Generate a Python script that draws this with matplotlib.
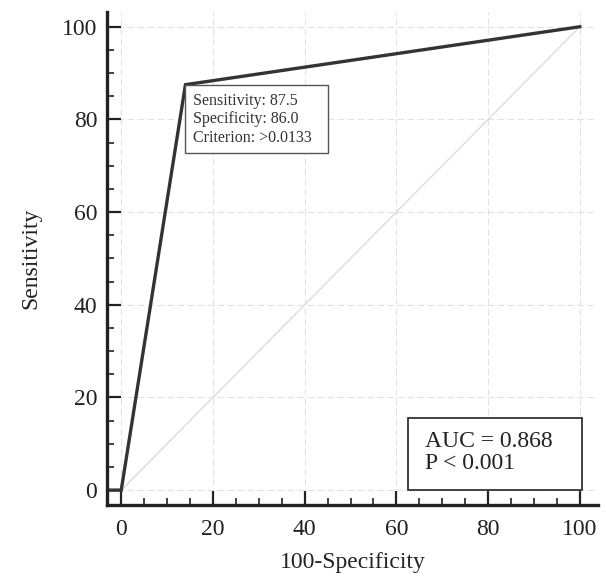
import matplotlib.pyplot as plt
from matplotlib.patches import Rectangle
import numpy as np

plt.rcParams['font.family'] = ['Liberation Serif', 'DejaVu Serif']

# ROC curve points (100-specificity, sensitivity)
fpr = [-3, 0, 14, 100]
tpr = [0, 0, 87.5, 100]
diag = [0, 100]
ticks = [0, 20, 40, 60, 80, 100]
cut_text = "Sensitivity: 87.5\nSpecificity: 86.0\nCriterion: >0.0133"
auc_text = "AUC = 0.868\nP < 0.001"

fig = plt.figure(figsize=(6.06, 5.76), dpi=100)
ax = fig.add_axes([0.1766, 0.1233, 0.8104, 0.856])

ax.grid(True, color='#e2e2e2', linestyle=(0, (6, 3)), linewidth=0.8)
ax.plot(diag, diag, color='#dcdcdc', linewidth=1.0)
ax.plot(fpr, tpr, color='#333333', linewidth=2.4, solid_joinstyle='miter')

ax.set_xlim(-3.1, 104)
ax.set_ylim(-3.2, 103.2)
ax.set_xticks(ticks)
ax.set_yticks(ticks)
ax.set_xticks(np.arange(0, 101, 5), minor=True)
ax.set_yticks(np.arange(0, 101, 5), minor=True)

for s in ['top', 'right']:
    ax.spines[s].set_visible(False)
for s in ['left', 'bottom']:
    ax.spines[s].set_linewidth(2.4)
    ax.spines[s].set_color('#222222')

ax.tick_params(which='major', direction='in', length=10, width=1.6, color='#222222',
               labelsize=17, labelcolor='#222222')
ax.tick_params(axis='y', which='major', pad=7)
ax.tick_params(axis='x', which='major', pad=10)
ax.tick_params(which='minor', direction='in', length=5, width=1.2, color='#222222')

ax.set_xlabel('100-Specificity', fontsize=17, color='#222222', labelpad=9)
ax.set_ylabel('Sensitivity', fontsize=17, color='#222222', labelpad=15)

# cut-off point box
ax.add_patch(Rectangle((13.9, 72.8), 31.2, 14.7, facecolor='white',
                       edgecolor='#555555', linewidth=1.0, zorder=4))
ax.text(15.6, 85.7, cut_text, fontsize=11.5, va='top', ha='left', color='#333333',
        linespacing=1.2, zorder=5)

# AUC box
ax.add_patch(Rectangle((62.5, 0.0), 37.9, 15.5, facecolor='white',
                       edgecolor='#333333', linewidth=1.3, zorder=4))
ax.text(66.2, 12.7, auc_text, fontsize=17, va='top', ha='left', color='#222222',
        linespacing=1.05, zorder=5)

fig.savefig('out.png', dpi=100)
